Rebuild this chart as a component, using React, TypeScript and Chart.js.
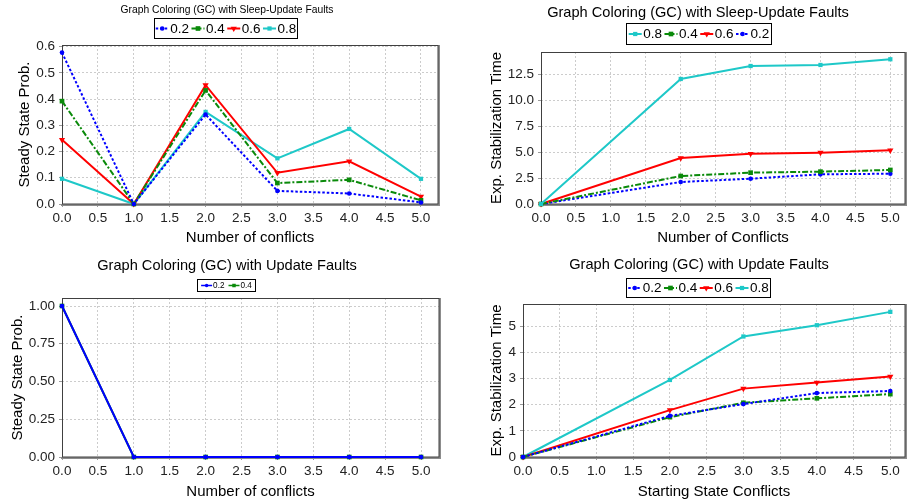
import React, { useEffect, useRef } from "react";
import { Chart, registerables } from "chart.js";

Chart.register(...registerables);

const FONT = "'Liberation Sans', Arial, Helvetica, sans-serif";

// ---------------- Data ----------------
const seriesLabels = ["0.2", "0.4", "0.6", "0.8"];

// Top-left: steady state probability, sleep-update faults
const ssConflicts = [0, 1, 2, 3, 4, 5];
const ssSleep02 = [0.577, 0, 0.341, 0.05, 0.04, 0.006];
const ssSleep04 = [0.392, 0, 0.433, 0.08, 0.092, 0.014];
const ssSleep06 = [0.245, 0, 0.453, 0.119, 0.163, 0.028];
const ssSleep08 = [0.096, 0, 0.351, 0.174, 0.286, 0.096];

// Top-right: expected stabilization time, sleep-update faults
const estConflicts = [0, 2, 3, 4, 5];
const estSleep08 = [0, 12.05, 13.3, 13.4, 13.95];
const estSleep04 = [0, 2.7, 3.02, 3.12, 3.28];
const estSleep06 = [0, 4.43, 4.85, 4.95, 5.17];
const estSleep02 = [0, 2.12, 2.44, 2.86, 2.92];

// Bottom-left: steady state probability, update faults
const ssUpdate02 = [1.0, 0, 0, 0, 0, 0];
const ssUpdate04 = [1.0, 0, 0, 0, 0, 0];

// Bottom-right: expected stabilization time, update faults
const estUpdate02 = [0, 1.57, 2.02, 2.44, 2.52];
const estUpdate04 = [0, 1.52, 2.07, 2.24, 2.4];
const estUpdate06 = [0, 1.79, 2.61, 2.84, 3.07];
const estUpdate08 = [0, 2.94, 4.6, 5.03, 5.54];

const xTickStep = 0.5;
const yTickStepTL = 0.1;
const yTickStepTR = 2.5;
const yTickStepBL = 0.25;
const yTickStepBR = 1;

// ---------------- Styles ----------------
type Style = { color: string; dash: number[]; point: string; r: number; rot: number };
const STYLES: Record<string, Style> = {
  "0.2": { color: "#0000ff", dash: [2.5, 2], point: "circle", r: 2.3, rot: 0 },
  "0.4": { color: "#0a8a0a", dash: [6, 2, 2, 2], point: "rect", r: 3.3, rot: 0 },
  "0.6": { color: "#ff0000", dash: [], point: "triangle", r: 3.6, rot: 180 },
  "0.8": { color: "#1ec8c8", dash: [], point: "rect", r: 3.0, rot: 0 },
};

type Series = { label: string; xs: number[]; ys: number[]; solid?: boolean };

type Panel = {
  box: { left: number; top: number; w: number; h: number };
  area: { left: number; top: number; right: number; bottom: number };
  xMax: number;
  yMax: number;
  yStep: number;
  yDec: number;
  xTitle: string;
  yTitle: string;
  yTitlePad: number;
  xTitlePad: number;
  title: string;
  titleX: number;
  titleY: number;
  titleSize: number;
  legend: { x: number; y: number; w: number; h: number; size: number; icon: number; gap: number; sep: number; scale: number };
  series: Series[];
};

const PANELS: Panel[] = [
  {
    box: { left: 0, top: 0, w: 455, h: 250 },
    area: { left: 62, top: 45, right: 438, bottom: 204 },
    xMax: 5.237,
    yMax: 0.606,
    yStep: yTickStepTL,
    yDec: 1,
    xTitle: "Number of conflicts",
    yTitle: "Steady State Prob.",
    yTitlePad: 16,
    xTitlePad: 3,
    title: "Graph Coloring (GC) with Sleep-Update Faults",
    titleX: 227,
    titleY: 10,
    titleSize: 10.3,
    legend: { x: 154, y: 18, w: 144, h: 21, size: 13.5, icon: 13, gap: 1.5, sep: 2.5, scale: 1 },
    series: [
      { label: seriesLabels[0], xs: ssConflicts, ys: ssSleep02 },
      { label: seriesLabels[1], xs: ssConflicts, ys: ssSleep04 },
      { label: seriesLabels[2], xs: ssConflicts, ys: ssSleep06 },
      { label: seriesLabels[3], xs: ssConflicts, ys: ssSleep08 },
    ],
  },
  {
    box: { left: 455, top: 0, w: 454, h: 250 },
    area: { left: 86, top: 52, right: 453, bottom: 204 },
    xMax: 5.21,
    yMax: 14.65,
    yStep: yTickStepTR,
    yDec: 1,
    xTitle: "Number of Conflicts",
    yTitle: "Exp. Stabilization Time",
    yTitlePad: 33,
    xTitlePad: 3,
    title: "Graph Coloring (GC) with Sleep-Update Faults",
    titleX: 243,
    titleY: 13,
    titleSize: 14.6,
    legend: { x: 171, y: 23, w: 146, h: 22, size: 13.5, icon: 13, gap: 1.5, sep: 2.5, scale: 1 },
    series: [
      { label: seriesLabels[3], xs: estConflicts, ys: estSleep08 },
      { label: seriesLabels[1], xs: estConflicts, ys: estSleep04 },
      { label: seriesLabels[2], xs: estConflicts, ys: estSleep06 },
      { label: seriesLabels[0], xs: estConflicts, ys: estSleep02 },
    ],
  },
  {
    box: { left: 0, top: 250, w: 455, h: 253 },
    area: { left: 62, top: 48, right: 439, bottom: 207 },
    xMax: 5.25,
    yMax: 1.053,
    yStep: yTickStepBL,
    yDec: 2,
    xTitle: "Number of conflicts",
    yTitle: "Steady State Prob.",
    yTitlePad: 9,
    xTitlePad: 2,
    title: "Graph Coloring (GC) with Update Faults",
    titleX: 227,
    titleY: 15.7,
    titleSize: 14.6,
    legend: { x: 197, y: 29, w: 59, h: 13, size: 8.2, icon: 11, gap: 1, sep: 4, scale: 0.75 },
    series: [
      { label: seriesLabels[0], xs: ssConflicts, ys: ssUpdate02, solid: true },
      { label: seriesLabels[1], xs: ssConflicts, ys: ssUpdate04, solid: true },
    ],
  },
  {
    box: { left: 455, top: 250, w: 454, h: 253 },
    area: { left: 68, top: 54, right: 453, bottom: 207 },
    xMax: 5.2,
    yMax: 5.84,
    yStep: yTickStepBR,
    yDec: 0,
    xTitle: "Starting State Conflicts",
    yTitle: "Exp. Stabilization Time",
    yTitlePad: 33,
    xTitlePad: 2,
    title: "Graph Coloring (GC) with Update Faults",
    titleX: 244,
    titleY: 15,
    titleSize: 14.6,
    legend: { x: 171, y: 28, w: 145, h: 20, size: 13.5, icon: 13, gap: 1.5, sep: 2.5, scale: 1 },
    series: [
      { label: seriesLabels[0], xs: estConflicts, ys: estUpdate02 },
      { label: seriesLabels[1], xs: estConflicts, ys: estUpdate04 },
      { label: seriesLabels[2], xs: estConflicts, ys: estUpdate06 },
      { label: seriesLabels[3], xs: estConflicts, ys: estUpdate08 },
    ],
  },
];

// ---------------- Drawing helpers ----------------
function drawMarker(ctx: CanvasRenderingContext2D, st: Style, x: number, y: number, k: number) {
  const r = st.r * k;
  ctx.save();
  ctx.fillStyle = st.color;
  ctx.beginPath();
  if (st.point === "circle") {
    ctx.arc(x, y, r, 0, Math.PI * 2);
  } else if (st.point === "rect") {
    const s = r * Math.SQRT1_2;
    ctx.rect(x - s, y - s, 2 * s, 2 * s);
  } else {
    const h = r * 1.5;
    const w = r * 0.866 * 2;
    ctx.moveTo(x - w / 2, y - h / 3);
    ctx.lineTo(x + w / 2, y - h / 3);
    ctx.lineTo(x, y + (2 * h) / 3);
    ctx.closePath();
  }
  ctx.fill();
  ctx.restore();
}

function makeDecor(p: Panel) {
  return {
    id: "decor",
    beforeDatasetsDraw(chart: any) {
      const { ctx, chartArea: a } = chart;
      ctx.save();
      ctx.setLineDash([]);
      ctx.strokeStyle = "#8c8c8c";
      ctx.lineWidth = 2;
      ctx.beginPath();
      ctx.moveTo(a.left - 1, a.bottom + 1);
      ctx.lineTo(a.right + 2, a.bottom + 1);
      ctx.moveTo(a.right + 1, a.top);
      ctx.lineTo(a.right + 1, a.bottom + 2);
      ctx.stroke();
      ctx.strokeStyle = "#404040";
      ctx.lineWidth = 1;
      ctx.strokeRect(a.left + 0.5, a.top + 0.5, a.right - a.left - 0.5, a.bottom - a.top - 0.5);
      ctx.restore();
    },
    afterDraw(chart: any) {
      const ctx: CanvasRenderingContext2D = chart.ctx;
      ctx.save();
      ctx.fillStyle = "#000";
      ctx.font = `${p.titleSize}px ${FONT}`;
      ctx.textAlign = "center";
      ctx.textBaseline = "middle";
      ctx.fillText(p.title, p.titleX, p.titleY);
      const lg = p.legend;
      ctx.font = `${lg.size}px ${FONT}`;
      const widths = p.series.map((s) => ctx.measureText(s.label).width);
      const total =
        widths.reduce((acc, w) => acc + lg.icon + lg.gap + w, 0) + lg.sep * (p.series.length - 1);
      let x = lg.x + (lg.w - total) / 2;
      const cy = lg.y + lg.h / 2;
      ctx.fillStyle = "#fff";
      ctx.fillRect(lg.x, lg.y, lg.w, lg.h);
      ctx.strokeStyle = "#000";
      ctx.lineWidth = 1;
      ctx.setLineDash([]);
      ctx.strokeRect(lg.x + 0.5, lg.y + 0.5, lg.w - 1, lg.h - 1);
      p.series.forEach((s, i) => {
        const st = STYLES[s.label];
        ctx.strokeStyle = st.color;
        ctx.lineWidth = 2 * lg.scale;
        ctx.setLineDash(s.solid ? [] : st.dash);
        ctx.beginPath();
        ctx.moveTo(x, cy);
        ctx.lineTo(x + lg.icon, cy);
        ctx.stroke();
        ctx.setLineDash([]);
        drawMarker(ctx, st, x + lg.icon / 2, cy, lg.scale);
        ctx.fillStyle = "#000";
        ctx.textAlign = "left";
        ctx.textBaseline = "middle";
        ctx.fillText(s.label, x + lg.icon + lg.gap, cy + 0.5);
        x += lg.icon + lg.gap + widths[i] + lg.sep;
      });
      ctx.restore();
    },
  };
}

function buildConfig(p: Panel): any {
  const datasets = p.series.map((s) => {
    const st = STYLES[s.label];
    return {
      label: s.label,
      data: s.xs.map((x, i) => ({ x, y: s.ys[i] })),
      borderColor: st.color,
      backgroundColor: st.color,
      borderWidth: 2,
      borderDash: s.solid ? [] : st.dash,
      pointStyle: st.point,
      pointRadius: st.r,
      pointRotation: st.rot,
      pointBackgroundColor: st.color,
      pointBorderColor: st.color,
      pointBorderWidth: 0,
      tension: 0,
      clip: false,
    };
  });
  const tickFont = { family: FONT, size: 13.5 };
  const titleFont = { family: FONT, size: 15 };
  const W = p.box.w;
  const H = p.box.h;
  const grid = {
    color: "#cccccc",
    lineWidth: 1,
    drawTicks: true,
    tickLength: 3,
    tickColor: "#9a9a9a",
    tickBorderDash: [],
  };
  const border = { display: false, dash: [2, 2] };
  return {
    type: "line",
    data: { datasets },
    options: {
      animation: false,
      responsive: false,
      maintainAspectRatio: false,
      devicePixelRatio: 1,
      layout: { padding: { top: p.area.top, left: 0, right: W - p.area.right, bottom: 0 } },
      plugins: {
        legend: { display: false },
        title: { display: false },
        tooltip: { enabled: false },
      },
      scales: {
        x: {
          type: "linear",
          min: 0,
          max: p.xMax,
          afterFit: (scale: any) => {
            scale.height = H - p.area.bottom;
          },
          ticks: {
            stepSize: xTickStep,
            includeBounds: false,
            autoSkip: false,
            maxRotation: 0,
            font: tickFont,
            color: "#222",
            padding: 3,
            callback: (v: any) => Number(v).toFixed(1),
          },
          grid,
          border,
          title: {
            display: true,
            text: p.xTitle,
            font: titleFont,
            color: "#000",
            padding: { top: 0, bottom: p.xTitlePad },
          },
        },
        y: {
          type: "linear",
          min: 0,
          max: p.yMax,
          afterFit: (scale: any) => {
            scale.width = p.area.left;
          },
          ticks: {
            stepSize: p.yStep,
            includeBounds: false,
            font: tickFont,
            color: "#222",
            padding: 4,
            callback: (v: any) => Number(v).toFixed(p.yDec),
          },
          grid,
          border,
          title: {
            display: true,
            text: p.yTitle,
            font: titleFont,
            color: "#000",
            padding: { top: p.yTitlePad, bottom: 0 },
          },
        },
      },
    },
    plugins: [makeDecor(p)],
  };
}

function PanelChart({ p }: { p: Panel }) {
  const ref = useRef<HTMLCanvasElement | null>(null);
  useEffect(() => {
    if (!ref.current) return;
    const chart = new Chart(ref.current, buildConfig(p));
    return () => chart.destroy();
  }, [p]);
  return (
    <canvas
      ref={ref}
      width={p.box.w}
      height={p.box.h}
      style={{
        position: "absolute",
        left: p.box.left,
        top: p.box.top,
        width: p.box.w,
        height: p.box.h,
        display: "block",
      }}
    />
  );
}

export default function App() {
  return (
    <div
      style={{
        position: "absolute",
        left: 0,
        top: 0,
        width: 909,
        height: 503,
        background: "#fff",
        overflow: "hidden",
      }}
    >
      {PANELS.map((p, i) => (
        <PanelChart key={i} p={p} />
      ))}
    </div>
  );
}
